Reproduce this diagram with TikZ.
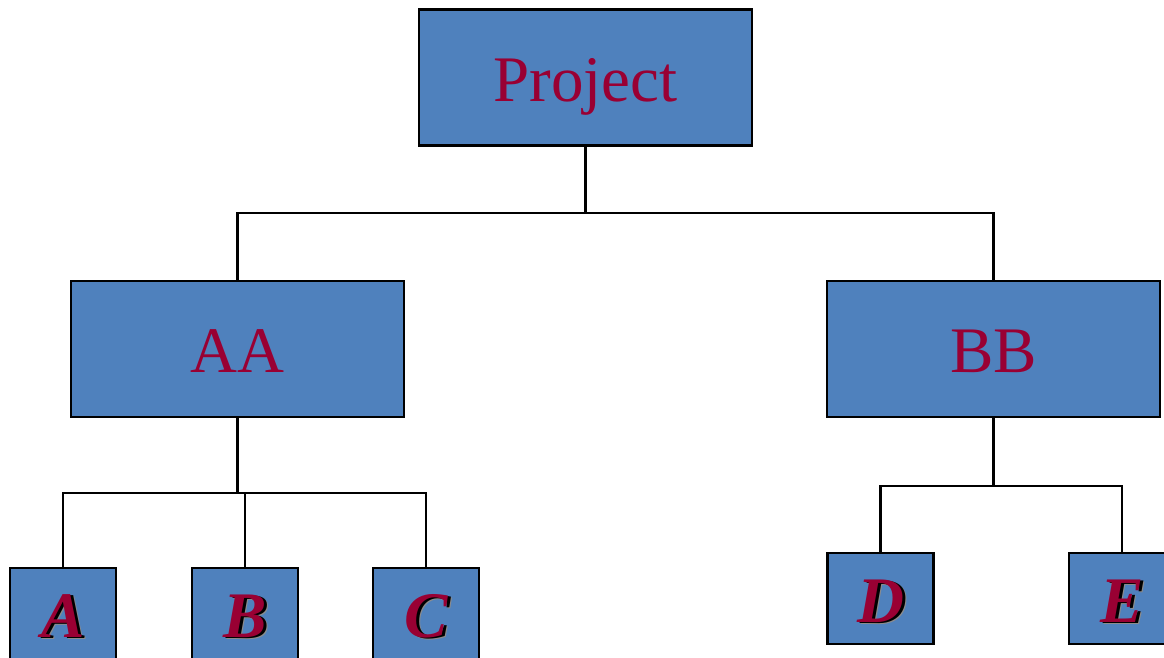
\documentclass[tikz,border=0pt]{standalone}
\usepackage{fontspec}
\setmainfont{Liberation Serif}
\definecolor{boxblue}{HTML}{4F81BD}
\definecolor{labelred}{HTML}{990033}
% letter with a soft dark drop shadow
\newcommand{\shadowletter}[1]{%
  \rlap{\kern2.4pt\raisebox{-1.4pt}{\color{black!45}#1}}%
  \rlap{\kern1.7pt\raisebox{-1.0pt}{\color{black}#1}}#1}
\begin{document}
\begin{tikzpicture}[x=0.02cm,y=-0.02cm,
  box/.style={draw=black, line width=1.4pt, fill=boxblue, inner sep=0pt,
    text=labelred, text height=27pt, text depth=0pt,
    font=\fontsize{37}{40}\selectfont},
  bigbox/.style={box, minimum width=6.66cm, minimum height=2.72cm},
  leafbox/.style={box, minimum width=2.12cm, minimum height=1.82cm,
    font=\fontsize{37}{40}\selectfont\bfseries\itshape},
  link/.style={draw=black, line width=1.4pt}]
\useasboundingbox (0,0) rectangle (1164,657);
\clip (0,0) rectangle (1164,657);

% boxes
\node[bigbox] (P)  at (585.5,77.5) {Project};
\node[bigbox] (AA) at (237.5,349) {AA};
\node[bigbox] (BB) at (993.5,349) {BB};
\node[leafbox] (A) at (63,613.5) {\shadowletter{A}};
\node[leafbox] (B) at (245,613.5) {\shadowletter{B}};
\node[leafbox] (C) at (426,613.5) {\shadowletter{C}};
\node[leafbox] (D) at (880.5,598.5) {\shadowletter{D}};
\node[leafbox] (E) at (1122,598.5) {\shadowletter{E}};

% bus points of the tree
\coordinate (jP)  at (585.5,213);
\coordinate (jAA) at (237.5,493);
\coordinate (jBB) at (993.5,486);

% connectors
\draw[link] (P.south) -- (jP) -| (AA.north);
\draw[link] (jP) -| (BB.north);
\draw[link] (AA.south) -- (jAA) -| (A.north);
\draw[link] (jAA) -| (B.north);
\draw[link] (jAA) -| (C.north);
\draw[link] (BB.south) -- (jBB) -| (D.north);
\draw[link] (jBB) -| (E.north);
\end{tikzpicture}
\end{document}
